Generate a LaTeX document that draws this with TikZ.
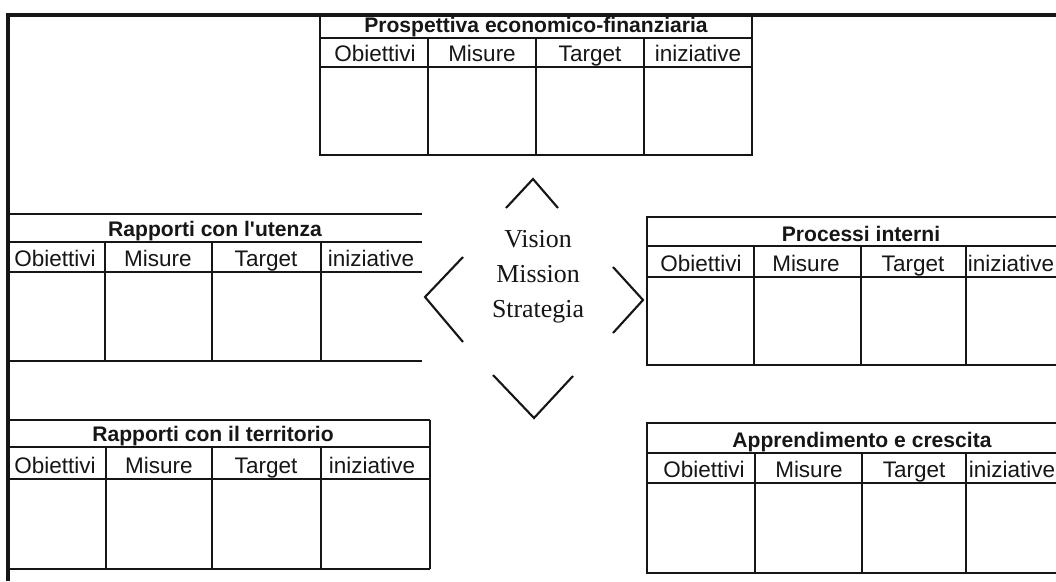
\documentclass[tikz,border=0pt]{standalone}
\usepackage{fontspec}
\setmainfont{Liberation Serif}
\setsansfont{Liberation Sans}
\definecolor{ink}{RGB}{22, 22, 22}
\tikzset{
    frameline/.style={draw=ink, line width=2.2pt},
    gridline/.style={draw=ink, line width=1.8pt},
    tabtitle/.style={font=\sffamily\bfseries\fontsize{15}{18}\selectfont, text=ink, inner sep=0pt, anchor=base},
    tabhead/.style={font=\sffamily\fontsize{16}{18}\selectfont, text=ink, inner sep=0pt, anchor=base},
    core/.style={font=\rmfamily\fontsize{18.4}{24.8}\selectfont, align=center, text=ink, inner sep=0pt},
    chevron/.style={draw=ink, line width=1.5pt}
}

\begin{document}
\begin{tikzpicture}[x=0.025cm, y=-0.025cm]
    \useasboundingbox (0,0) rectangle (1056,581);
    \clip (0,0) rectangle (1056,581);
    \fill[white] (0,0) rectangle (1056,581);
    % frame
    \draw[frameline] (1056,15) -- (8,15) -- (8,581);

    % prospettiva economico-finanziaria
    \draw[gridline] (320,15) rectangle (752,155);
    \draw[gridline] (320,38) -- (752,38) (320,67) -- (752,67);
    \foreach \x in {428,536,644} \draw[gridline] (\x,38) -- (\x,155);
    \node[tabtitle] (finTitle) at (536,32) {Prospettiva economico-finanziaria};
    \foreach \lab/\cx [count=\i] in {Obiettivi/375,Misure/482,Target/590,iniziative/698}
        \node[tabhead] (fin-\i) at (\cx,61.5) {\lab};

    % rapporti con l'utenza
    \draw[gridline] (8,214) -- (422,214) (8,242) -- (422,242) (8,272) -- (422,272) (8,361) -- (422,361);
    \foreach \x in {105,212,321} \draw[gridline] (\x,242) -- (\x,361);
    \node[tabtitle] (uteTitle) at (215,236) {Rapporti con l\textquotesingle utenza};
    \foreach \lab/\cx [count=\i] in {Obiettivi/55,Misure/158,Target/266,iniziative/371}
        \node[tabhead] (ute-\i) at (\cx,266.5) {\lab};

    % rapporti con il territorio
    \draw[gridline] (8,420) -- (430,420) (8,447) -- (430,447) (8,479) -- (430,479) (8,569) -- (430,569);
    \draw[gridline] (430,420) -- (430,569);
    \foreach \x in {106,212,321} \draw[gridline] (\x,447) -- (\x,569);
    \node[tabtitle] (terTitle) at (213,441) {Rapporti con il territorio};
    \foreach \lab/\cx [count=\i] in {Obiettivi/55,Misure/159,Target/266,iniziative/372}
        \node[tabhead] (ter-\i) at (\cx,473.5) {\lab};

    % processi interni
    \draw[gridline] (1056,217) -- (647,217) -- (647,365) -- (1056,365);
    \draw[gridline] (647,246) -- (1056,246) (647,277) -- (1056,277);
    \foreach \x in {754,861,966} \draw[gridline] (\x,246) -- (\x,365);
    \node[tabtitle] (proTitle) at (861,241) {Processi interni};
    \foreach \lab/\cx [count=\i] in {Obiettivi/701,Misure/806,Target/913,iniziative/1011}
        \node[tabhead] (pro-\i) at (\cx,271.5) {\lab};

    % apprendimento e crescita
    \draw[gridline] (1056,423) -- (647,423) -- (647,573) -- (1056,573);
    \draw[gridline] (647,453) -- (1056,453) (647,483) -- (1056,483);
    \foreach \x in {755,862,966} \draw[gridline] (\x,453) -- (\x,573);
    \node[tabtitle] (appTitle) at (862,447.5) {Apprendimento e crescita};
    \foreach \lab/\cx [count=\i] in {Obiettivi/704,Misure/809,Target/914,iniziative/1012}
        \node[tabhead] (app-\i) at (\cx,477.5) {\lab};

    % centro
    \node[core] (vms) at (538,277) {Vision\\Mission\\Strategia};
    \draw[chevron] (506,208) -- (533,179) -- (558,208);
    \draw[chevron] (493,375) -- (534,418) -- (573,376);
    \draw[chevron] (463,257) -- (425,297) -- (463,342);
    \draw[chevron] (613,267) -- (643,300) -- (613,333);
\end{tikzpicture}
\end{document}
